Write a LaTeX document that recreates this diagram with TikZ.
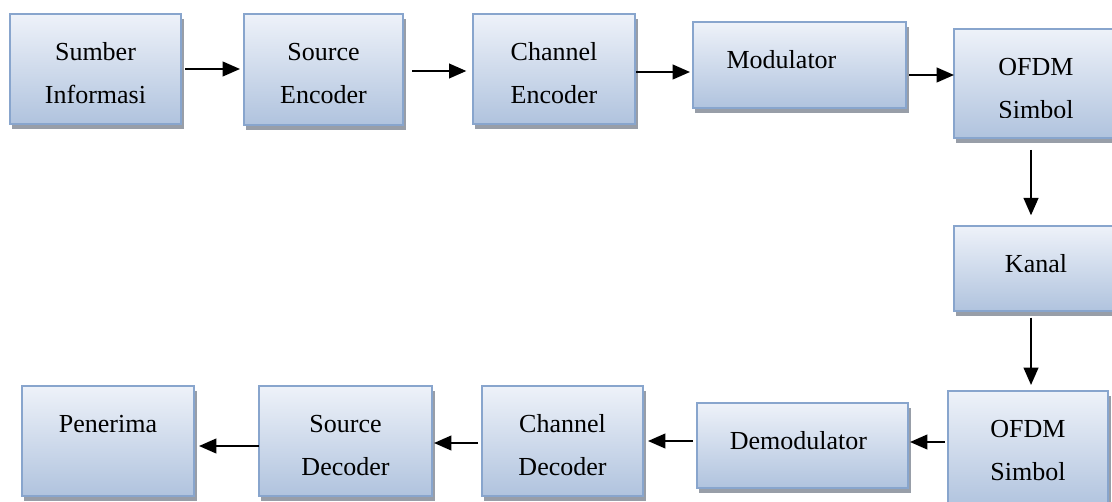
\documentclass[tikz,border=0pt]{standalone}
\usepackage{fontspec}
\setmainfont{Liberation Serif}
\usetikzlibrary{arrows.meta,calc}

\definecolor{boxedge}{RGB}{136,165,205}
\definecolor{boxtop}{RGB}{238,242,249}
\definecolor{boxbot}{RGB}{176,195,222}
\definecolor{boxshade}{RGB}{152,158,168}

\tikzset{
  blockbox/.style={draw=boxedge, line width=1.4pt, top color=boxtop, bottom color=boxbot,
                   rectangle, inner sep=0pt, outer sep=0pt},
  blocktext/.style={anchor=base, inner sep=0pt, font=\fontsize{19.5}{23}\selectfont},
  flow/.style={line width=1.5pt, -{Triangle[length=13pt,width=11pt]}},
}

% block: name, left, top, right, bottom, first line, second line, text shift (px)
\newcommand\blockat[8]{%
  \fill[boxshade] (#2+2,#3+5) rectangle (#4+3,#5+5);
  \node[blockbox, minimum width={(#4-#2)*0.75pt}, minimum height={(#5-#3)*0.75pt}]
    (#1) at ({(#2+#4)/2},{(#3+#5)/2}) {};
  \begin{scope}
    \clip (#2,#3) rectangle (#4,#5-20.5);
    \node[blocktext] (#1-a) at ([xshift={#8*0.75pt}, yshift=-35.1pt]#1.north) {#6};
    \if\relax\detokenize{#7}\relax\else
      \node[blocktext] (#1-b) at ([xshift={#8*0.75pt}, yshift=-67.2pt]#1.north) {#7};
    \fi
  \end{scope}
}

\begin{document}
\begin{tikzpicture}[x=0.75pt, y=-0.75pt]
  \useasboundingbox (0,0) rectangle (1112,502);
  \clip (0,0) rectangle (1112,502);

  % transmitter chain
  \blockat{src}{10}{14}{181}{124}{Sumber}{Informasi}{0}
  \blockat{senc}{244}{14}{403}{125}{Source}{Encoder}{0}
  \blockat{cenc}{473}{14}{635}{124}{Channel}{Encoder}{0}
  \blockat{mod}{693}{22}{906}{108}{Modulator}{}{-18}
  \blockat{ofdmt}{954}{29}{1118}{138}{OFDM}{Simbol}{0}
  % channel
  \blockat{kanal}{954}{226}{1118}{311}{Kanal}{}{0}
  % receiver chain
  \blockat{ofdmr}{948}{391}{1108}{508}{OFDM}{Simbol}{0}
  \blockat{demod}{697}{403}{908}{488}{Demodulator}{}{-4}
  \blockat{cdec}{482}{386}{643}{496}{Channel}{Decoder}{0}
  \blockat{sdec}{259}{386}{432}{496}{Source}{Decoder}{0}
  \blockat{pen}{22}{386}{194}{496}{Penerima}{}{0}

  % connectors
  \draw[flow, shorten <=3pt, shorten >=3pt] (src.east |- 0,69) -- (senc.west |- 0,69);
  \draw[flow, shorten <=6.75pt, shorten >=5pt] (senc.east |- 0,71) -- (cenc.west |- 0,71);
  \draw[flow, shorten <=0.75pt, shorten >=2.25pt] (cenc.east |- 0,72) -- (mod.west |- 0,72);
  \draw[flow, shorten <=2.25pt] (mod.east |- 0,75) -- (ofdmt.west |- 0,75);
  \draw[flow, shorten <=9pt, shorten >=8pt] (1031,0 |- ofdmt.south) -- (1031,0 |- kanal.north);
  \draw[flow, shorten <=5pt, shorten >=4.5pt] (1031,0 |- kanal.south) -- (1031,0 |- ofdmr.north);
  \draw[flow, shorten <=2.25pt, shorten >=1.5pt] (ofdmr.west |- 0,442) -- (demod.east |- 0,442);
  \draw[flow, shorten <=3pt, shorten >=3.75pt] (demod.west |- 0,441) -- (cdec.east |- 0,441);
  \draw[flow, shorten <=3pt, shorten >=1.5pt] (cdec.west |- 0,443) -- (sdec.east |- 0,443);
  \draw[flow, shorten <=0pt, shorten >=3.75pt] (sdec.west |- 0,446) -- (pen.east |- 0,446);
\end{tikzpicture}
\end{document}
